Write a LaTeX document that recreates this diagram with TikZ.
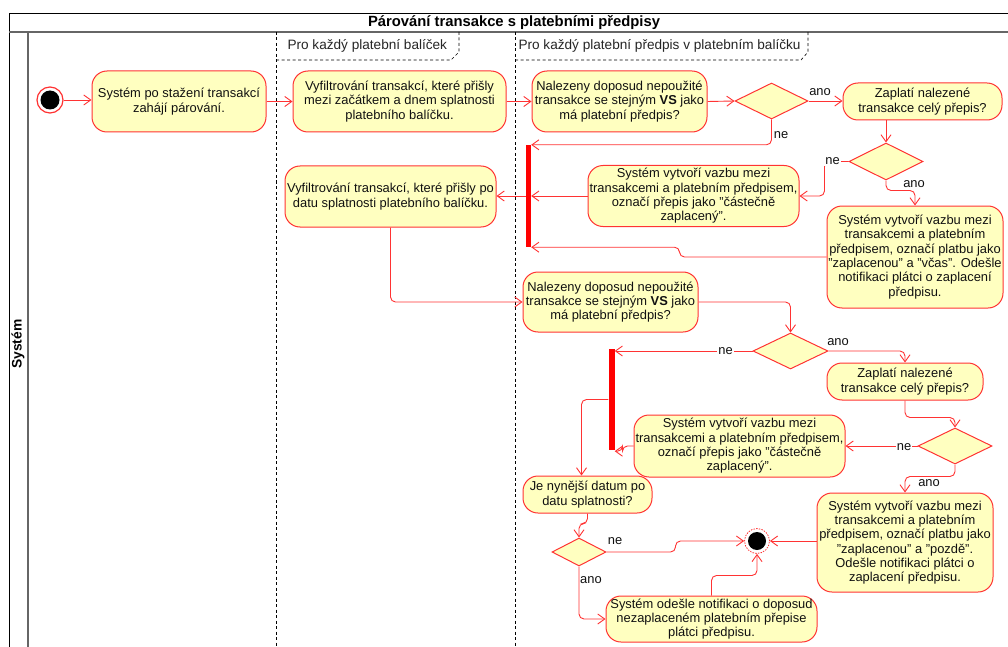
\documentclass[tikz,border=0pt]{standalone}
\usepackage{fontspec}
\setmainfont{Liberation Sans}
\usetikzlibrary{shapes.geometric,arrows.meta,calc}
\definecolor{edgec}{HTML}{FF3333}
\definecolor{actfill}{HTML}{FFFFC0}
\definecolor{barred}{HTML}{FF0000}
\definecolor{frameg}{HTML}{666666}
\definecolor{txt}{HTML}{111111}
\begin{document}
\begin{tikzpicture}[x=1pt,y=-1pt,
  every node/.style={font=\fontsize{12.9}{14.3}\selectfont, text=txt},
  act/.style={draw=edgec, fill=actfill, rounded corners=15pt, align=center, inner sep=0pt, line width=1pt},
  dec/.style={diamond, draw=edgec, fill=actfill, inner sep=0pt, line width=1pt},
  syncbar/.style={fill=barred, draw=none, inner sep=0pt, minimum width=5pt, minimum height=102pt},
  arr/.style={draw=edgec, line width=0.9pt, rounded corners=5pt, -{Straight Barb[length=7pt,width=10pt]}},
  lbl/.style={inner sep=1pt},
  lblw/.style={inner sep=1pt, fill=white},
  looplbl/.style={anchor=west, text=black!85, font=\fontsize{13.6}{15}\selectfont},
  loopline/.style={dash pattern=on 3pt off 2.5pt, line width=0.6pt, black}
]
\useasboundingbox (0,0) rectangle (1008,647);
\fill[white] (0,0) rectangle (1008,647);

% frame
\draw[black, line width=1pt] (9,647) -- (9,14) -- (1008,14);
\draw[frameg, line width=1.6pt] (9,32) -- (1008,32);
\draw[frameg, line width=1.3pt] (28,32) -- (28,647);
\node[font=\bfseries\fontsize{14.8}{16}\selectfont, text=black] (title) at (514,23) {Párování transakce s platebními předpisy};
\node[rotate=90, font=\bfseries\fontsize{13.8}{15}\selectfont, text=black] (lane) at (18,344) {Systém};

% loop regions
\draw[loopline] (276,32) -- (276,647);
\draw[loopline] (276,60) -- (451,60) -- (459,52) -- (459,32);
\node[looplbl] (loop1) at (284,46) {Pro každý platební balíček};
\draw[loopline] (515,32) -- (515,647);
\draw[loopline] (515,60) -- (801,60) -- (808,52) -- (808,32);
\node[looplbl] (loop2) at (515,46) {Pro každý platební předpis v platebním balíčku};

% start
\node[circle, draw=edgec, fill=white, line width=1.2pt, minimum size=26pt, inner sep=0pt] (start) at (50,100) {};
\fill[black] (start.center) circle (9.5pt);

% activities
\node[act, minimum width=174pt, minimum height=61pt] (a1) at (179,101.5) {Systém po stažení transakcí\\zahájí párování.};
\node[act, minimum width=213pt, minimum height=61pt] (a2) at (399.5,101.5) {Vyfiltrování transakcí, které přišly\\mezi začátkem a dnem splatnosti\\platebního balíčku.};
\node[act, minimum width=175pt, minimum height=61pt] (a3) at (619.5,101.5) {Nalezeny doposud nepoužité\\transakce se stejným \textbf{VS} jako\\má platební předpis?};
\node[dec, minimum width=73pt, minimum height=36pt] (d1) at (771.5,101) {};
\node[act, minimum width=159pt, minimum height=37pt] (a4) at (922.5,101.5) {Zaplatí nalezené\\transakce celý přepis?};
\node[dec, minimum width=74pt, minimum height=37pt] (d2) at (886,161.5) {};
\node[act, minimum width=211pt, minimum height=61pt] (a5) at (693.5,196) {Systém vytvoří vazbu mezi\\transakcemi a platebním předpisem,\\označí přepis jako "částečně\\zaplacený".};
\node[act, minimum width=176pt, minimum height=102pt] (a6) at (915,257) {Systém vytvoří vazbu mezi\\transakcemi a platebním\\předpisem, označí platbu jako\\"zaplacenou" a "včas". Odešle\\notifikaci plátci o zaplacení\\předpisu.};
\node[syncbar] (bar1) at (528.5,196) {};
\node[act, minimum width=211pt, minimum height=61pt] (a7) at (390.5,196.5) {Vyfiltrování transakcí, které přišly po\\datu splatnosti platebního balíčku.};
\node[act, minimum width=175pt, minimum height=60pt] (a8) at (610.5,302) {Nalezeny doposud nepoužité\\transakce se stejným \textbf{VS} jako\\má platební předpis?};
\node[dec, minimum width=75pt, minimum height=36pt] (d3) at (790.5,351) {};
\node[act, minimum width=156pt, minimum height=37pt] (a9) at (905,381.5) {Zaplatí nalezené\\transakce celý přepis?};
\node[dec, minimum width=74pt, minimum height=36pt] (d4) at (955,446) {};
\node[act, minimum width=211pt, minimum height=62pt] (a10) at (739.5,446) {Systém vytvoří vazbu mezi\\transakcemi a platebním předpisem,\\označí přepis jako "částečně\\zaplacený".};
\node[syncbar, minimum width=6pt, minimum height=101pt] (bar2) at (611.5,399.5) {};
\node[act, minimum width=129pt, minimum height=37pt] (a11) at (587.5,494.5) {Je nynější datum po\\datu splatnosti?};
\node[dec, minimum width=54pt, minimum height=28pt] (d5) at (579,552) {};
\node[circle, draw=edgec, dash pattern=on 1.5pt off 1.2pt, fill=white, line width=0.8pt, minimum size=25pt, inner sep=0pt] (end) at (757,541) {};
\fill[black] (end.center) circle (9pt);
\node[act, minimum width=176pt, minimum height=99pt] (a12) at (905,542.5) {Systém vytvoří vazbu mezi\\transakcemi a platebním\\předpisem, označí platbu jako\\"zaplacenou" a "pozdě".\\Odešle notifikaci plátci o\\zaplacení předpisu.};
\node[act, minimum width=211pt, minimum height=46pt] (a13) at (711.5,619) {Systém odešle notifikaci o doposud\\nezaplaceném platebním přepise\\plátci předpisu.};

% connectors
\draw[arr] (start.east) -- (start.east -| a1.west);
\draw[arr] (a1.east) -- (a2.west);
\draw[arr] (a2.east) -- (a3.west);
\draw[arr] (a3.east) -- (d1.west);
\draw[arr] (d1.east) -- (d1.east -| a4.west);
\node[lbl] (l1) at (820,92) {ano};
\draw[arr] (d1.south) |- (bar1.north east);
\node[lbl] (l2) at (781,135) {ne};
\draw[arr] (a4.south -| d2.north) -- (d2.north);
\draw[arr] (d2.west) -- ++(-24,0) |- (a5.east);
\node[lblw] (l3) at (832.5,161.5) {ne};
\draw[arr] (d2.south) -- ++(0,10) -| (a6.north);
\node[lbl] (l4) at (914,184) {ano};
\draw[arr] (a5.west) -- (a5.west -| bar1.east);
\draw[arr] (a6.west) -- ++(-147,0) |- (bar1.south east);
\draw[arr] (bar1.west) -- (bar1.west -| a7.east);
\draw[arr] (a7.south) |- (a8.west);
\draw[arr] (a8.east) -| (d3.north);
\draw[arr] (d3.east) -| (a9.north);
\node[lbl] (l5) at (838,342) {ano};
\draw[arr] (d3.west) -- (d3.west -| bar2.east);
\node[lblw] (l6) at (725.5,351) {ne};
\draw[arr] (a9.south) -- ++(0,17) -| (d4.north);
\draw[arr] (d4.west) -- (d4.west -| a10.east);
\node[lblw] (l7) at (904,447) {ne};
\draw[arr] (d4.south) -- ++(0,12) -| (a12.north);
\node[lbl] (l8) at (929,483) {ano};
\draw[arr] (a10.west) -- ++(-11,0) |- ([yshift=-1pt]bar2.south east);
\draw[arr] (bar2.west) -| ([xshift=-6pt]a11.north);
\draw[arr] (a11.south) -- ++(0,10) -| (d5.north);
\draw[arr] (d5.east) -- ++(69,0) |- (end.west);
\node[lbl] (l9) at (615,541) {ne};
\draw[arr] (d5.south) |- (a13.west);
\node[lbl] (l10) at (591,580) {ano};
\draw[arr] (a13.north) -- ++(0,-20) -| (end.south);
\draw[arr] (end.east -| a12.west) -- (end.east);
\end{tikzpicture}
\end{document}
